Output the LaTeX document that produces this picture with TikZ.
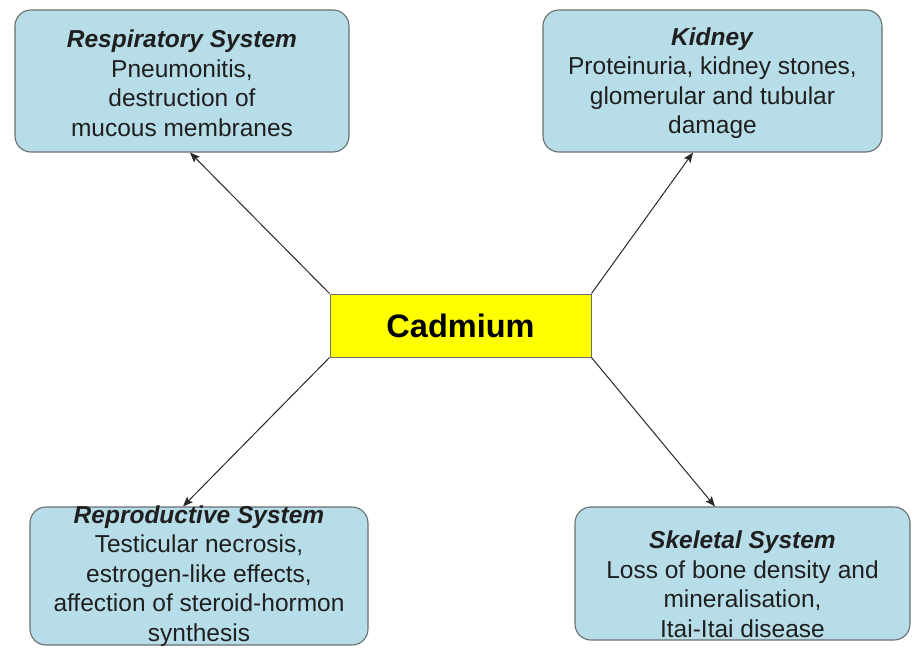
\documentclass[tikz,border=0pt]{standalone}
\usepackage{fontspec}
\setmainfont{Liberation Sans}
\usetikzlibrary{arrows.meta}
\definecolor{boxfill}{RGB}{183,222,232}
\definecolor{boxline}{RGB}{105,110,112}
\definecolor{cadfill}{RGB}{255,255,0}
\definecolor{arrowcol}{RGB}{40,40,40}
\tikzset{
  organbox/.style={draw=boxline, line width=1.1pt, fill=boxfill, rounded corners=16pt, inner sep=0pt},
  organtext/.style={align=center, inner sep=0pt, font=\fontsize{24.5}{29.5}\selectfont, text=black!88},
  cadbox/.style={draw=boxline, line width=1pt, fill=cadfill, inner sep=0pt, minimum width=261pt, minimum height=63pt, font=\fontsize{32.5}{36}\selectfont\bfseries},
  arr/.style={draw=arrowcol, line width=1pt, -{Stealth[length=10pt,width=8pt,inset=2pt]}}
}
\begin{document}
\begin{tikzpicture}[x=1pt,y=-1pt]
\useasboundingbox (0,0) rectangle (913,648);
% boxes
\node[organbox, minimum width=334pt, minimum height=142pt] (resp) at (182,81) {};
\node[organbox, minimum width=339pt, minimum height=142pt] (kid) at (712.5,81) {};
\node[organbox, minimum width=338pt, minimum height=138pt] (repro) at (199,576) {};
\node[organbox, minimum width=335pt, minimum height=133pt] (skel) at (742.5,573.5) {};
\node[cadbox] (cad) at (460.5,325.5) {Cadmium};
% texts
\node[organtext] (resptxt) at (182,83) {\textbf{\textit{Respiratory System}}\\Pneumonitis,\\destruction of\\mucous membranes};
\node[organtext] (kidtxt) at (712.5,83) {\textbf{\textit{Kidney}}\\Proteinuria, kidney stones,\\glomerular and tubular\\damage};
\node[organtext] (reprotxt) at (199,576) {\textbf{\textit{Reproductive System}}\\Testicular necrosis,\\estrogen-like effects,\\affection of steroid-hormon\\synthesis};
\node[organtext] (skeltxt) at (742.5,584) {\textbf{\textit{Skeletal System}}\\Loss of bone density and\\mineralisation,\\Itai-Itai disease};
% connectors
\draw[arr] (cad.north west) -- ([xshift=8pt]resp.south);
\draw[arr] (cad.north east) -- ([xshift=-19.5pt]kid.south);
\draw[arr] (cad.south west) -- ([xshift=-16pt]repro.north);
\draw[arr] (cad.south east) -- ([xshift=-27.5pt]skel.north);
\end{tikzpicture}
\end{document}
